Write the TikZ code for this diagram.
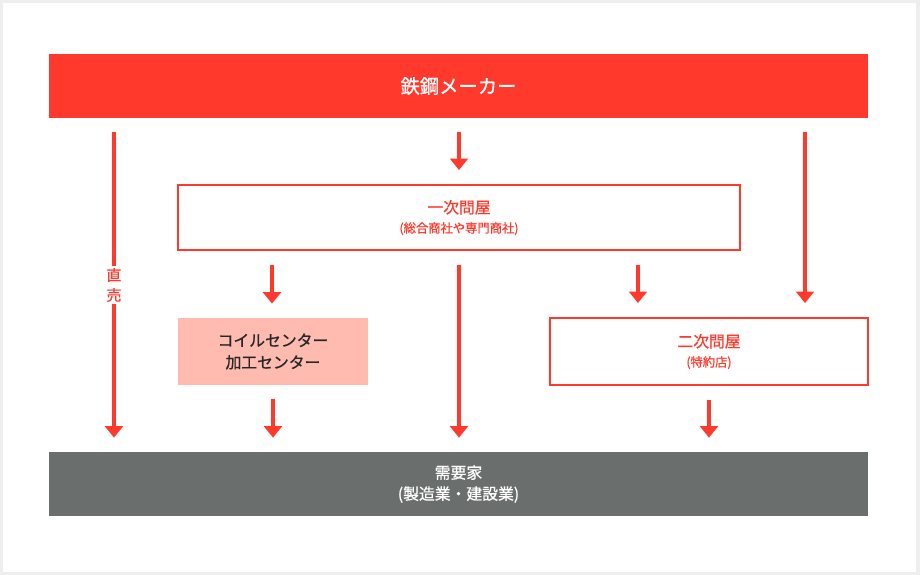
\documentclass[tikz,border=0pt]{standalone}
\usepackage{fontspec}
\setmainfont[FakeBold=0.8]{Noto Sans CJK JP}
\usetikzlibrary{arrows.meta}
\definecolor{tekko}{HTML}{FF3A2C}
\definecolor{usuaka}{HTML}{FFBBB0}
\definecolor{hai}{HTML}{6A6E6D}
\definecolor{waku}{HTML}{EEEEEE}
\begin{document}
\begin{tikzpicture}[x=0.02cm,y=-0.02cm,
  ya/.style={line width=2pt,draw=tekko,-{Triangle[width=10pt,length=6.5pt]},
    shorten <=0.28cm,shorten >=0.28cm},
  obi/.style={minimum width=16.38cm,minimum height=1.28cm,text=white,align=center},
  hako/.style={draw=tekko,line width=1.1pt,text=tekko,align=center,
    minimum height=1.3cm,font=\fontsize{9}{11}\selectfont}]
\fill[waku] (0,0) rectangle (920,575);
\fill[white] (3,3) rectangle (916,572);
\path coordinate (k1) at (114,0) coordinate (k3) at (459,0)
      coordinate (k2) at (272,0) coordinate (k4) at (638,0)
      coordinate (k5) at (805,0);
\path node (maker) at (458.5,86) [obi,fill=tekko,font=\fontsize{11}{13}\selectfont] {鉄鋼メーカー}
      node (ichiji) at (459,217.5) [hako,minimum width=11.24cm]
        {一次問屋\\{\fontsize{7}{11}\selectfont (総合商社や専門商社)}}
      node (coil) at (273,351.5) [fill=usuaka,minimum width=3.8cm,minimum height=1.34cm,
        align=center,text=black!85,font=\fontsize{9}{12.5}\selectfont]
        {コイルセンター\\加工センター}
      node (niji) at (709,351.5) [hako,minimum width=6.36cm,minimum height=1.34cm]
        {二次問屋\\{\fontsize{7}{11}\selectfont (特約店)}}
      node (juyo) at (458.5,484) [obi,fill=hai,font=\fontsize{9}{12}\selectfont]
        {需要家\\(製造業・建設業)};
% maker
\draw[ya] (maker.south -| k1) -- node[fill=white,text=tekko,align=center,inner sep=1pt,
  font=\fontsize{8.5}{11.4}\selectfont] {直\\売} (juyo.north -| k1);
\draw[ya] (maker.south -| k3) -- (ichiji.north -| k3);
\draw[ya] (maker.south -| k5) -- (niji.north -| k5);
% ichiji
\draw[ya] (ichiji.south -| k2) -- (coil.north -| k2);
\draw[ya] (ichiji.south -| k3) -- (juyo.north -| k3);
\draw[ya] (ichiji.south -| k4) -- (niji.north -| k4);
% to juyo
\draw[ya] (coil.south) -- (coil.south |- juyo.north);
\draw[ya] (niji.south) -- (niji.south |- juyo.north);
\end{tikzpicture}
\end{document}
